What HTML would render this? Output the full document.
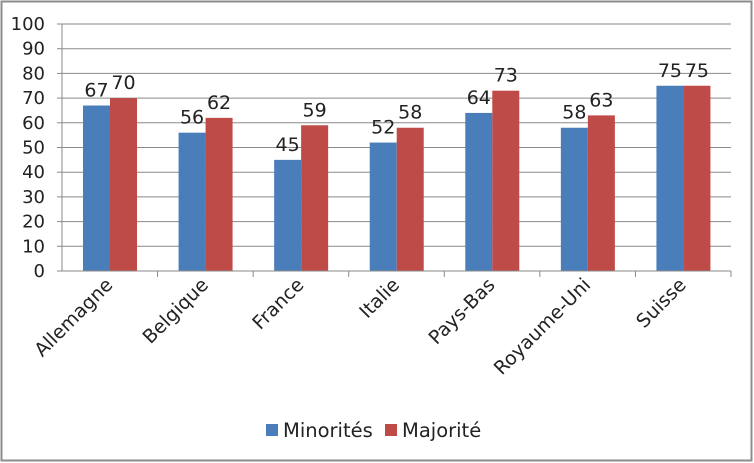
<!DOCTYPE html>
<html><head><meta charset="utf-8"><style>
html,body{margin:0;padding:0;background:#fff;}
svg{display:block;font-family:"DejaVu Sans","Liberation Sans",sans-serif;}
</style></head><body>
<svg id="c" width="754" height="463" viewBox="0 0 754 463">
<rect x="1.5" y="1.5" width="750" height="459" fill="#fff" stroke="#8c8c8c" stroke-width="2"/>
<g id="grid"></g><g id="bars"></g><g id="axes"></g>
<g>
<rect x="266" y="424" width="12" height="12" fill="#4a7ebb"/>
<text x="283" y="437" font-size="19.5" fill="#222">Minorités</text>
<rect x="385" y="424" width="12" height="12" fill="#be4b48"/>
<text x="402" y="437" font-size="19.5" fill="#222">Majorité</text>
</g>
</svg>
<script>
const categories=["Allemagne","Belgique","France","Italie","Pays-Bas","Royaume-Uni","Suisse"];
const minorites=[67,56,45,52,64,58,75];
const majorite=[70,62,59,58,73,63,75];
const yTicks=[0,10,20,30,40,50,60,70,80,90,100];
const NS="http://www.w3.org/2000/svg";
const X0=62,X1=731,Y0=271,Y1=24;
const cw=(X1-X0)/categories.length;
const y=v=>Y0-(v/100)*(Y0-Y1);
function mk(t,a,p){const e=document.createElementNS(NS,t);for(const k in a)e.setAttribute(k,a[k]);p.appendChild(e);return e;}
const grid=document.getElementById('grid'),bars=document.getElementById('bars'),axes=document.getElementById('axes');
yTicks.forEach(v=>{
 if(v>0){const l=mk('line',{x1:X0,x2:X1,y1:y(v),y2:y(v),stroke:'#8a8a8a','stroke-width':1},grid);
 
 }
 const tk=mk('line',{x1:X0-5,x2:X0,y1:y(v),y2:y(v),stroke:'#8a8a8a'},axes);
 
 
 const t=mk('text',{x:X0-17,y:y(v)+6,'text-anchor':'end','font-size':18,fill:'#222'},axes);
 t.textContent=v;
 
 
});
const ya=mk('line',{x1:X0,x2:X0,y1:Y1,y2:Y0,stroke:'#8a8a8a'},axes);


const xa=mk('line',{x1:X0,x2:X1,y1:Y0,y2:Y0,stroke:'#8a8a8a'},axes);


const bw=27,off=21;
categories.forEach((c,i)=>{
 const cx=X0+i*cw;
 const tk=mk('line',{x1:cx+cw,x2:cx+cw,y1:Y0,y2:Y0+6,stroke:'#8a8a8a'},axes);
 
 
 [[minorites[i],'#4a7ebb','minorites',0],[majorite[i],'#be4b48','majorite',bw]].forEach(([v,col,nm,dx])=>{
  const bx=cx+off+dx;
  const r=mk('rect',{x:bx,y:y(v),width:bw,height:Y0-y(v),fill:col},bars);
  
  
  const t=mk('text',{x:bx+bw/2,y:y(v)-9,'text-anchor':'middle','font-size':19,fill:'#222'},bars);
  t.textContent=v;
  
  
 });
 const lx=cx+cw/2+4,ly=Y0+15;
 const t=mk('text',{x:lx,y:ly,'text-anchor':'end','font-size':19,fill:'#222',transform:`rotate(-45 ${lx} ${ly})`},axes);
 t.textContent=c;
 
 
});
</script>
</body></html>
